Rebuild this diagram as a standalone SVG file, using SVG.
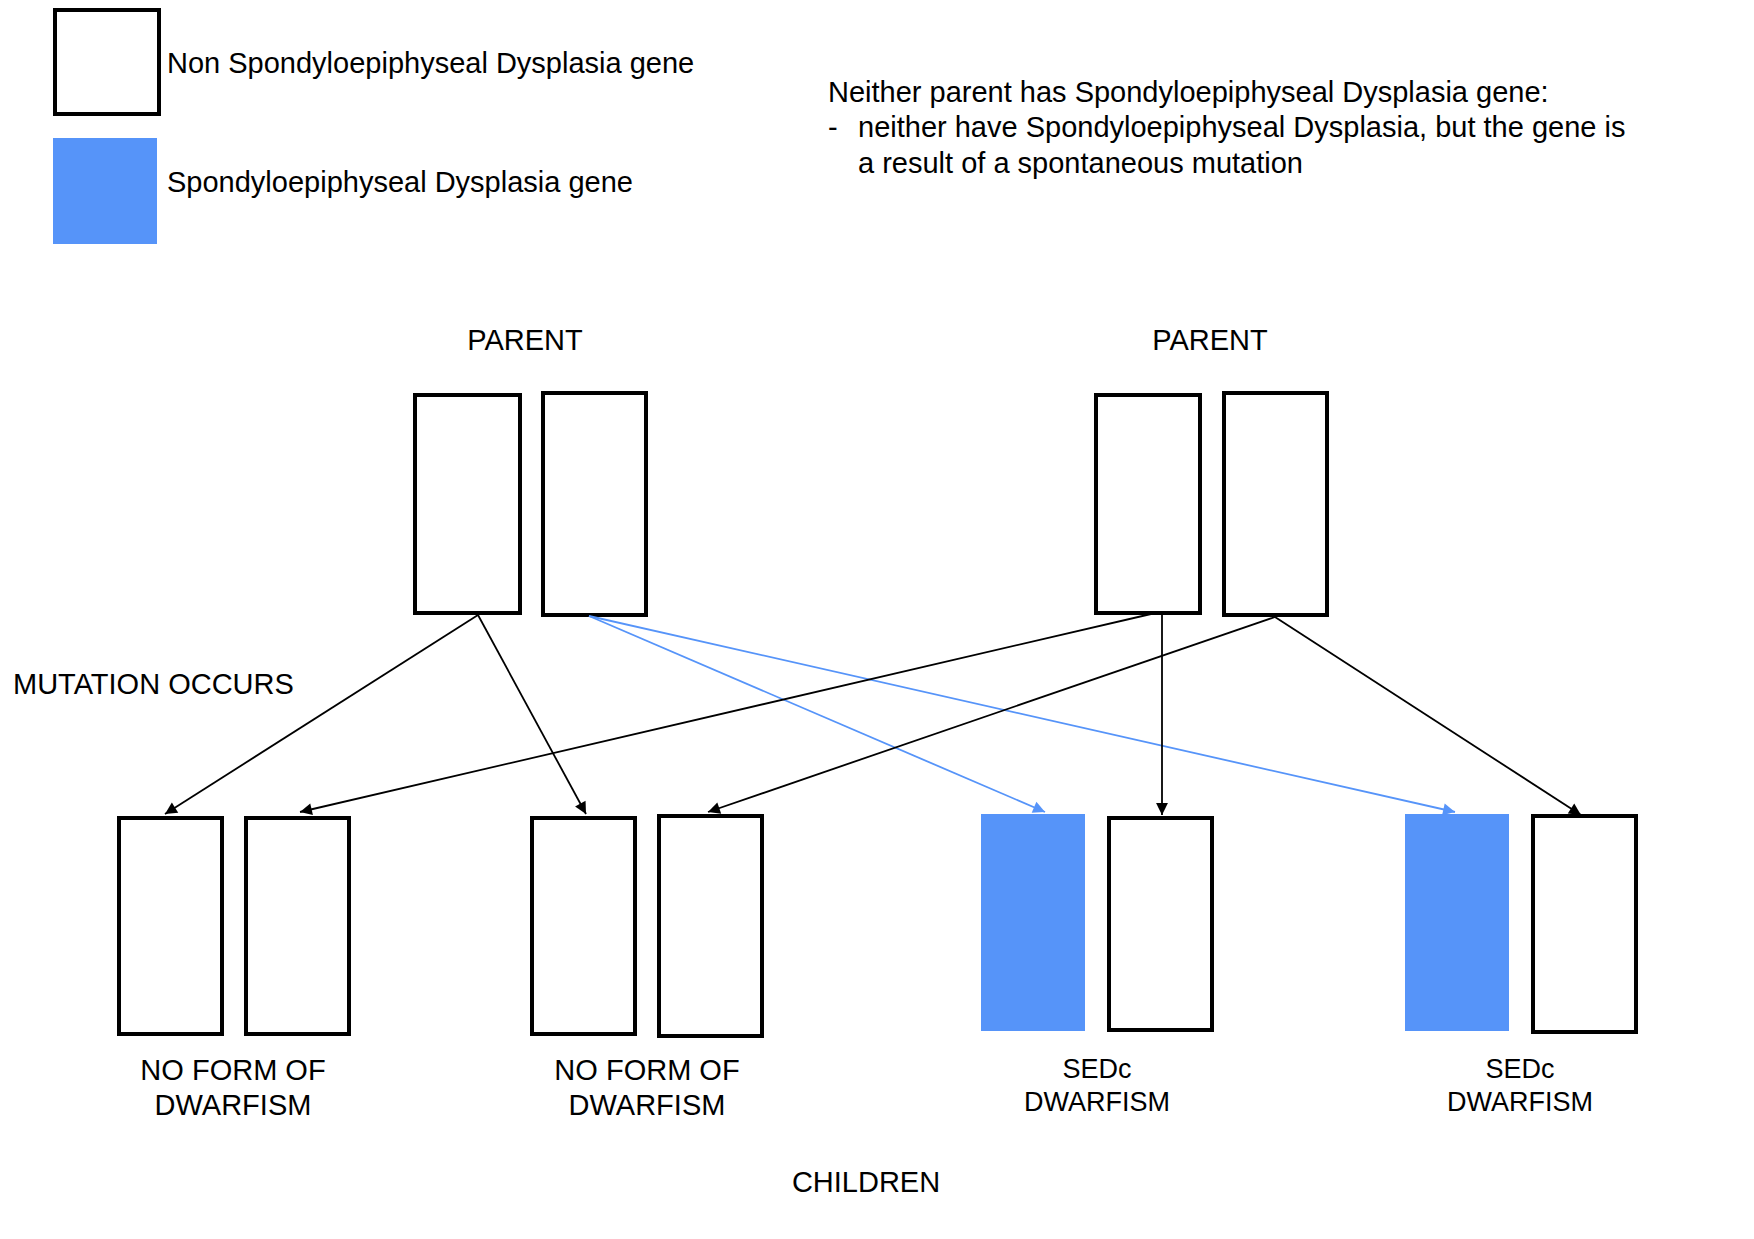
<svg xmlns="http://www.w3.org/2000/svg" width="1754" height="1239" viewBox="0 0 1754 1239">
<defs>
<style>
.t{font-family:"Liberation Sans",Arial,Helvetica,sans-serif;font-size:29px;fill:#000}
.s{font-size:27px}
.m{text-anchor:middle}
.box{fill:#fff;stroke:#000;stroke-width:4}
.gene{fill:#5694f9;stroke:none}
.c{fill:none;stroke:#000;stroke-width:1.8}
.cb{fill:none;stroke:#5694f9;stroke-width:1.8}
</style>
<marker id="ah" viewBox="0 0 10 10" refX="10" refY="5" markerWidth="7" markerHeight="7" markerUnits="userSpaceOnUse" orient="auto" style="overflow:visible">
<path d="M0,0 L10,5 L0,10 z" fill="#000" transform="scale(1.7) translate(-4.12,-2.06)"/>
</marker>
<marker id="ahb" viewBox="0 0 10 10" refX="10" refY="5" markerWidth="7" markerHeight="7" markerUnits="userSpaceOnUse" orient="auto" style="overflow:visible">
<path d="M0,0 L10,5 L0,10 z" fill="#5694f9" transform="scale(1.7) translate(-4.12,-2.06)"/>
</marker>
</defs>
<rect width="1754" height="1239" fill="#fff"/>

<g id="legend">
<rect class="box" x="55" y="10" width="104" height="104"/>
<text class="t" x="167" y="73">Non Spondyloepiphyseal Dysplasia gene</text>
<rect class="gene" x="53" y="138" width="104" height="106"/>
<text class="t" x="167" y="192">Spondyloepiphyseal Dysplasia gene</text>
</g>

<g id="note">
<text class="t" x="828" y="102">Neither parent has Spondyloepiphyseal Dysplasia gene:</text>
<text class="t" x="828" y="137">-</text>
<text class="t" x="858" y="137">neither have Spondyloepiphyseal Dysplasia, but the gene is</text>
<text class="t" x="858" y="173">a result of a spontaneous mutation</text>
</g>

<g id="labels">
<text class="t m" x="525" y="350">PARENT</text>
<text class="t m" x="1210" y="350">PARENT</text>
<text class="t" x="13" y="694">MUTATION OCCURS</text>
<text class="t m" x="866" y="1192">CHILDREN</text>
</g>

<g id="parent1">
<rect class="box" x="415" y="395" width="105" height="218"/>
<rect class="box" x="543" y="393" width="103" height="222"/>
</g>
<g id="parent2">
<rect class="box" x="1096" y="395" width="104" height="218"/>
<rect class="box" x="1224" y="393" width="103" height="222"/>
</g>

<g id="child1">
<rect class="box" x="119" y="818" width="103" height="216"/>
<rect class="box" x="246" y="818" width="103" height="216"/>
<text class="t m" x="233" y="1080">NO FORM OF</text>
<text class="t m" x="233" y="1115">DWARFISM</text>
</g>
<g id="child2">
<rect class="box" x="532" y="818" width="103" height="216"/>
<rect class="box" x="659" y="816" width="103" height="220"/>
<text class="t m" x="647" y="1080">NO FORM OF</text>
<text class="t m" x="647" y="1115">DWARFISM</text>
</g>
<g id="child3">
<rect class="gene" x="981" y="814" width="104" height="217"/>
<rect class="box" x="1109" y="818" width="103" height="212"/>
<text class="t s m" x="1097" y="1078">SEDc</text>
<text class="t s m" x="1097" y="1111">DWARFISM</text>
</g>
<g id="child4">
<rect class="gene" x="1405" y="814" width="104" height="217"/>
<rect class="box" x="1533" y="816" width="103" height="216"/>
<text class="t s m" x="1520" y="1078">SEDc</text>
<text class="t s m" x="1520" y="1111">DWARFISM</text>
</g>

<g id="connectors">
<line class="c" x1="478" y1="615" x2="165" y2="814" marker-end="url(#ah)"/>
<line class="c" x1="478" y1="615" x2="586" y2="814" marker-end="url(#ah)"/>
<line class="cb" x1="589" y1="616" x2="1045" y2="812" marker-end="url(#ahb)"/>
<line class="cb" x1="589" y1="616" x2="1455" y2="812" marker-end="url(#ahb)"/>
<line class="c" x1="1151" y1="614" x2="300" y2="812" marker-end="url(#ah)"/>
<line class="c" x1="1162" y1="615" x2="1162" y2="815" marker-end="url(#ah)"/>
<line class="c" x1="1275" y1="617" x2="708" y2="812" marker-end="url(#ah)"/>
<line class="c" x1="1275" y1="617" x2="1581" y2="815" marker-end="url(#ah)"/>
</g>
</svg>
